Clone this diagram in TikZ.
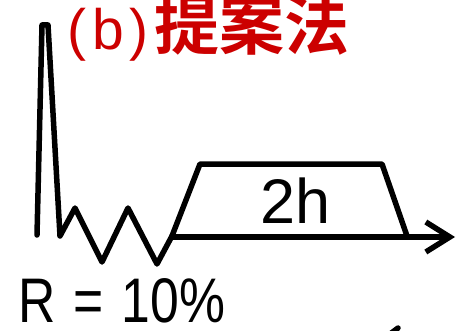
\documentclass[tikz,border=0pt]{standalone}
\usepackage{fontspec}
\setmainfont{Liberation Sans}
\newfontfamily\cjkbold{Noto Sans CJK SC Bold}
\usepackage{graphicx}
\usepackage{tikz}
\usetikzlibrary{arrows.meta}
\definecolor{titlered}{RGB}{204,0,0}

\begin{document}
\begin{tikzpicture}[x=1pt, y=-1pt, >={Straight Barb[length=24pt, width=30pt]},
  every node/.style={inner sep=0pt},
  wave/.style={line width=5.5pt, line join=round, line cap=round}]
  \useasboundingbox (0,0) rectangle (470,331);
  % spike and ripple
  \draw[wave] (37,235) -- (42,25) -- (48,25) -- (60,236) -- (75,208) -- (102,262)
    -- (128,208) -- (157,264) -- (172,236);
  % plateau
  \draw[wave] (172,236) -- (200,164) -- (382,164) -- (407,236);
  % time axis
  \draw[wave, line cap=butt, ->] (172,237) -- (455,237);
  \draw[wave] (390,334) -- (398,328);
  \node[anchor=base west, font=\fontsize{57}{57}\selectfont, text=titlered] (title) at (67,50)
    {(\kern6pt b\kern6pt)\kern6pt{\cjkbold\fontsize{65}{65}\selectfont 提案法}};
  \node[anchor=base west, font=\fontsize{63}{63}\selectfont] (dur) at (260,223) {2h};
  \node[anchor=base west, font=\fontsize{63}{63}\selectfont] (ratio) at (18,322)
    {\scalebox{0.82}[1]{R\hspace{22pt}=\hspace{22pt}10\%}};
\end{tikzpicture}
\end{document}
